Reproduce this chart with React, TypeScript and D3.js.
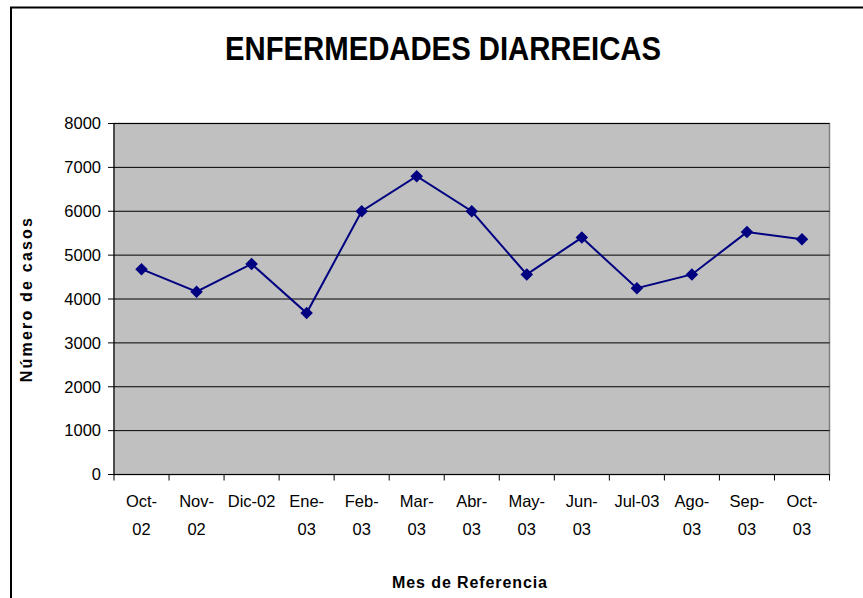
import React from "react";
import * as d3 from "d3";

const categories = ["Oct-02", "Nov-02", "Dic-02", "Ene-03", "Feb-03", "Mar-03", "Abr-03", "May-03", "Jun-03", "Jul-03", "Ago-03", "Sep-03", "Oct-03"];
const values = [4680, 4165, 4800, 3680, 6000, 6800, 6000, 4560, 5400, 4245, 4560, 5525, 5360];
const yTicks = [0, 1000, 2000, 3000, 4000, 5000, 6000, 7000, 8000];
const labelLines: string[][] = [["Oct-", "02"], ["Nov-", "02"], ["Dic-02"], ["Ene-", "03"], ["Feb-", "03"], ["Mar-", "03"], ["Abr-", "03"], ["May-", "03"], ["Jun-", "03"], ["Jul-03"], ["Ago-", "03"], ["Sep-", "03"], ["Oct-", "03"]];
const title = "ENFERMEDADES DIARREICAS";
const xTitle = "Mes de Referencia";
const yTitle = "Número de casos";

export default function App() {
  const W = 863, H = 598;
  const left = 114, right = 829.5, top = 123.5, bottom = 474.5;
  const x = d3.scaleBand<string>().domain(categories).range([left, right]);
  const y = d3.scaleLinear().domain([0, 8000]).range([bottom, top]);
  const cx = (c: string) => (x(c) as number) + x.bandwidth() / 2;
  const line = d3.line<number>().x((_, i) => cx(categories[i])).y((v) => y(v));
  const font = "Arial, 'Liberation Sans', sans-serif";
  const diamond = d3.symbol().type(d3.symbolDiamond2).size(100)();

  return (
    <svg width={W} height={H} style={{ position: "absolute", left: 0, top: 0, background: "#fff" }} fontFamily={font}>
      <rect x={11} y={7.5} width={1000} height={1000} fill="#fff" stroke="#000" strokeWidth={2} />
      <text x={443} y={60} textAnchor="middle" fontSize={33} fontWeight="bold" textLength={436} lengthAdjust="spacingAndGlyphs">{title}</text>
      <rect x={left} y={top} width={right - left} height={bottom - top} fill="#C0C0C0" stroke="#808080" strokeWidth={1.5} />
      {yTicks.filter((t) => t > 0).map((t) => (
        <line key={t} x1={left} x2={right} y1={y(t)} y2={y(t)} stroke="#000" strokeWidth={1} />
      ))}
      <line x1={left} x2={left} y1={top} y2={bottom} stroke="#000" strokeWidth={1} />
      <line x1={left} x2={right} y1={bottom} y2={bottom} stroke="#000" strokeWidth={1} />
      {yTicks.map((t) => (
        <g key={t}>
          <line x1={left - 6} x2={left} y1={y(t)} y2={y(t)} stroke="#000" />
          <text x={left - 13} y={y(t)} dy="0.35em" textAnchor="end" fontSize={16.5}>{t}</text>
        </g>
      ))}
      {d3.range(categories.length + 1).map((i) => {
        const xx = left + i * x.step();
        return <line key={i} x1={xx} x2={xx} y1={bottom} y2={bottom + 6} stroke="#000" />;
      })}
      {categories.map((c, i) => (
        <text key={c} x={cx(c)} textAnchor="middle" fontSize={16.5}>
          {labelLines[i].map((l, j) => (
            <tspan key={j} x={cx(c)} y={507 + j * 28}>{l}</tspan>
          ))}
        </text>
      ))}
      <path d={line(values) as string} fill="none" stroke="#000080" strokeWidth={2} />
      {values.map((v, i) => (
        <path key={i} d={diamond as string} transform={`translate(${cx(categories[i])},${y(v)})`} fill="#000080" />
      ))}
      <text x={470} y={588} textAnchor="middle" fontSize={16} fontWeight="bold" letterSpacing={0.9}>{xTitle}</text>
      <text transform="translate(32,299) rotate(-90)" textAnchor="middle" fontSize={16} fontWeight="bold" letterSpacing={2.2}>{yTitle}</text>
    </svg>
  );
}
